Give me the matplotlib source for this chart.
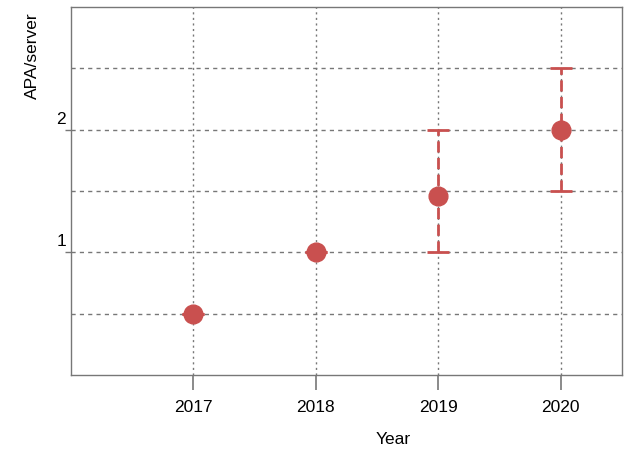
import matplotlib.pyplot as plt
import matplotlib.transforms as mtransforms
import numpy as np

plt.rcParams['font.family'] = ['Liberation Sans', 'DejaVu Sans']

# ---------- Data ----------
years = [2017, 2018, 2019, 2020]
apa = [0.5, 1.0, 1.46, 2.0]
err_low = [0.5, 1.0, 1.0, 1.5]
err_high = [0.5, 1.0, 2.0, 2.5]

y_grid = [0.5, 1.0, 1.5, 2.0, 2.5]
y_ticks = [1, 2]

red = '#c9504f'
grey = '#777777'

# ---------- Plot ----------
fig = plt.figure(figsize=(6.25, 4.5), dpi=100)
ax = fig.add_axes([71/625, 75/450, 551/625, 368/450])

ax.set_xlim(2016, 2020.5)
ax.set_ylim(0, 3)

# grid lines
for g in y_grid:
    ax.axhline(g, color=grey, lw=1, ls=(0, (3, 3)), zorder=1)
for yr in years:
    ax.axvline(yr, color=grey, lw=1, ls=(0, (1.5, 2.5)), zorder=1)

# error bars (only where there is spread)
yerr = np.array([np.array(apa) - np.array(err_low), np.array(err_high) - np.array(apa)])
eb = ax.errorbar(years, apa, yerr=yerr, fmt='none', ecolor=red, elinewidth=2,
                 capsize=8, capthick=2, zorder=3)
for line in eb[2]:
    line.set_linestyle((0, (4, 2)))
ax.plot(years, apa, 'o', color=red, markersize=13.5, zorder=4)

# ticks
ax.set_xticks(years)
ax.set_xticklabels([str(y) for y in years], fontsize=12.5)
ax.set_yticks(y_ticks)
ax.set_yticklabels([str(t) for t in y_ticks], fontsize=12.5)
ax.tick_params(axis='x', length=11, width=1.2, color=grey, pad=7)
ax.tick_params(axis='y', length=4.5, width=1, color=grey, pad=-1)
offset = mtransforms.ScaledTranslation(0, 12/100, fig.dpi_scale_trans)
for lab in ax.get_yticklabels():
    lab.set_transform(lab.get_transform() + offset)

for s in ax.spines.values():
    s.set_color(grey)
    s.set_linewidth(1)

ax.set_xlabel("Year", fontsize=12.5)
ax.xaxis.set_label_coords(0.584, -0.155)
ax.set_ylabel("APA/server", fontsize=12.5)
ax.yaxis.set_label_coords(-0.056, 0.867)

fig.savefig("out.png", dpi=100)
